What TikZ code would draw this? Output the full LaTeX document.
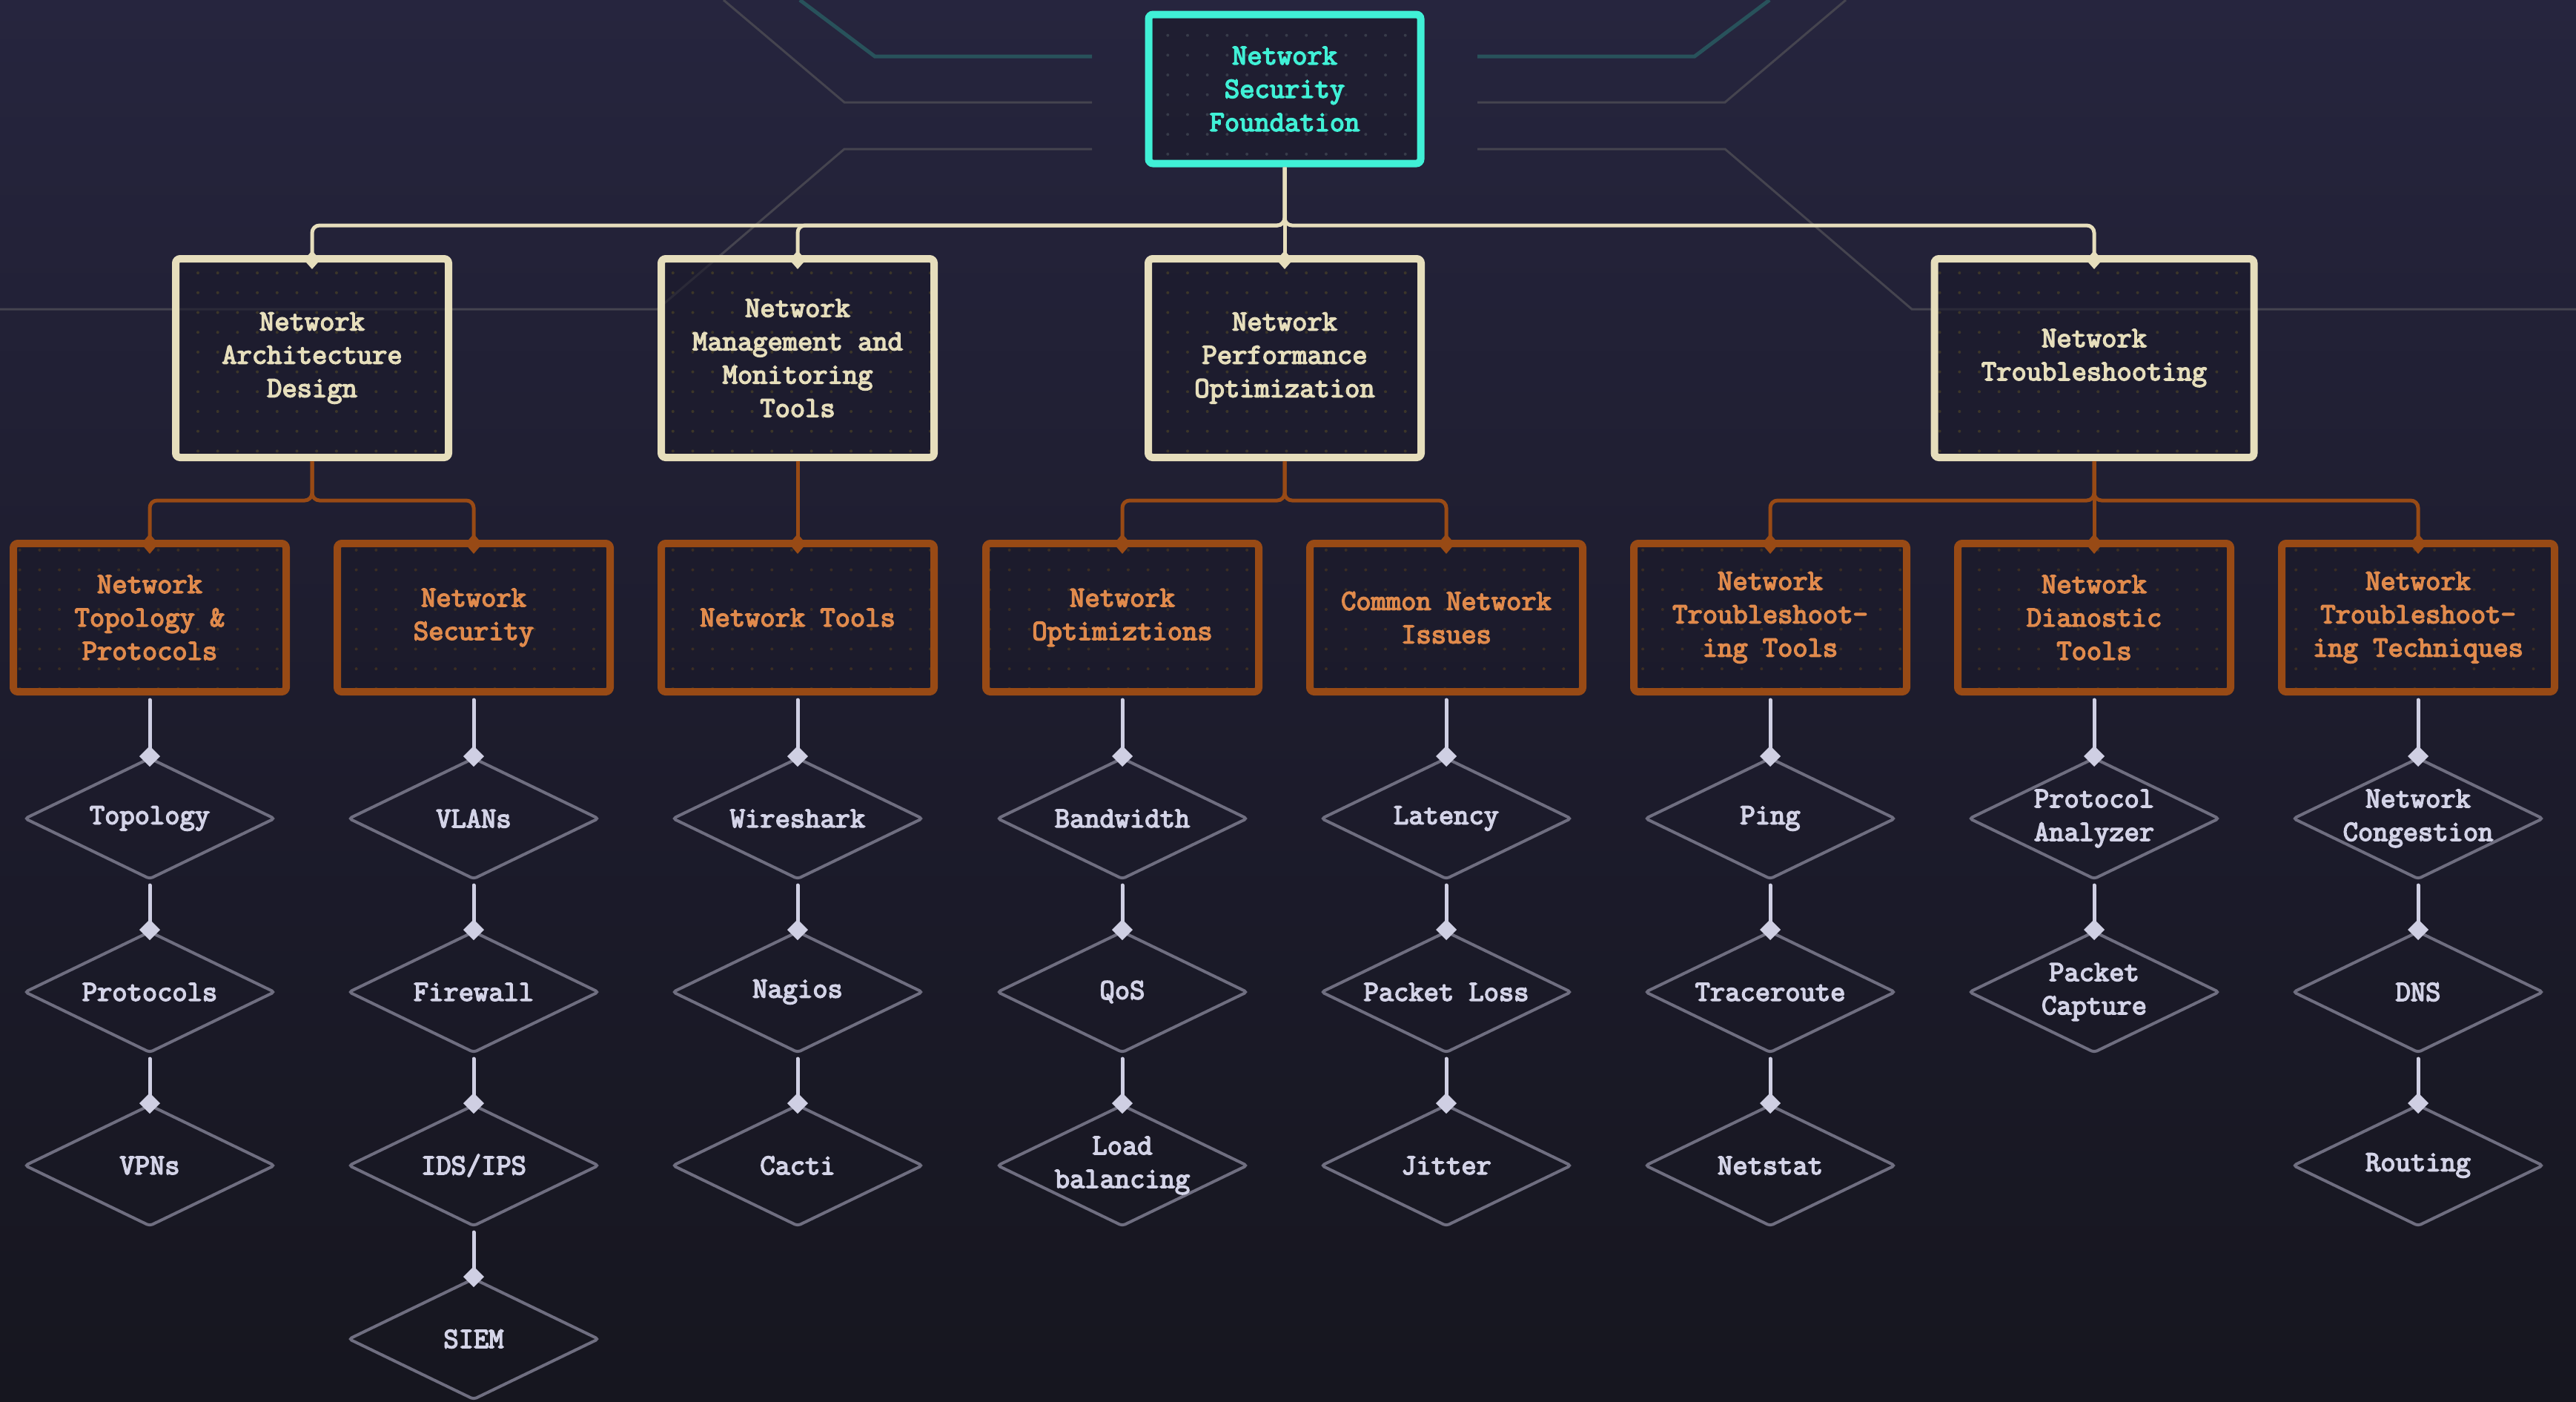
\documentclass[tikz,border=0pt]{standalone}
\usepackage{fontspec}
\setmonofont{Latin Modern Mono}[AutoFakeBold=4]
\usepackage{tikz}
\usetikzlibrary{positioning,arrows.meta,shapes.geometric,patterns.meta}
\definecolor{bgtop}{HTML}{26253E}
\definecolor{bgmid}{HTML}{1D1C2D}
\definecolor{bgbot}{HTML}{16161F}
\definecolor{boxfill}{HTML}{1B1A2A}
\definecolor{rootcolor}{HTML}{40F0D6}
\definecolor{rootdots}{HTML}{383C4A}
\definecolor{topiccolor}{HTML}{E6DEBC}
\definecolor{topicdots}{HTML}{3C3629}
\definecolor{subcolor}{HTML}{984A15}
\definecolor{subtext}{HTML}{E08A4C}
\definecolor{subdots}{HTML}{3B2E23}
\definecolor{leafline}{HTML}{6F6E80}
\definecolor{leaftext}{HTML}{D3D3E7}
\definecolor{leafarrow}{HTML}{CFCFE3}
\definecolor{traceteal}{HTML}{28525B}
\definecolor{tracegray}{HTML}{45444F}
\newcommand{\boxfont}{\ttfamily\bfseries\fontsize{11.2}{12.8}\selectfont}
\tikzset{
    base box/.style={rectangle, rounded corners=0.06cm, line width=0.1cm, align=center, font=\boxfont, inner sep=0pt,
        preaction={fill=boxfill, fill opacity=0.6}, pattern={Dots[radius=0.02cm, distance=0.267cm]}},
    root box/.style={base box, draw=rootcolor, text=rootcolor, pattern color=rootdots, minimum width=3.67cm, minimum height=2.01cm},
    topic box/.style={base box, draw=topiccolor, text=topiccolor, pattern color=topicdots, minimum width=3.68cm, minimum height=2.68cm},
    sub box/.style={base box, draw=subcolor, text=subtext, pattern color=subdots, minimum width=3.68cm, minimum height=2.00cm},
    leaf/.style={diamond, aspect=2, inner xsep=-0.3cm, inner ysep=-0.15cm, minimum width=3.38cm, minimum height=1.64cm,
        draw=leafline, line width=0.04cm, rounded corners=0.04cm, text=leaftext, font=\boxfont, align=center},
    topic link/.style={topiccolor, line width=0.05cm, rounded corners=0.1cm, -{Diamond[length=0.25cm, width=0.22cm]}, shorten >=-0.19cm},
    sub link/.style={subcolor, line width=0.05cm, rounded corners=0.1cm, -{Diamond[length=0.27cm, width=0.23cm]}, shorten >=-0.19cm},
    leaf link/.style={leafarrow, line width=0.05cm, line cap=round, -{Diamond[length=0.28cm, width=0.28cm]}, shorten <=0.06cm, shorten >=-0.14cm},
    trace teal/.style={traceteal, line width=0.05cm},
    trace gray/.style={tracegray, line width=0.03cm}
}

\begin{document}
\begin{tikzpicture}
    % Background
    \fill[top color=bgtop, bottom color=bgbot, middle color=bgmid] (0,0) rectangle (34.75,-18.90);
    \useasboundingbox (0,0) rectangle (34.75,-18.90);

    % Circuit traces
    \draw[trace teal] (10.79,0) -- (11.80,-0.76) -- (14.73,-0.76);
    \draw[trace teal] (19.93,-0.76) -- (22.86,-0.76) -- (23.87,0);
    \draw[trace gray] (9.76,0) -- (11.39,-1.38) -- (14.73,-1.38);
    \draw[trace gray] (19.93,-1.38) -- (23.27,-1.38) -- (24.90,0);
    \draw[trace gray] (14.73,-2.01) -- (11.39,-2.01) -- (8.87,-4.17) -- (0,-4.17);
    \draw[trace gray] (19.93,-2.01) -- (23.27,-2.01) -- (25.79,-4.17) -- (34.75,-4.17);

    % Bus levels
    \coordinate (bus1) at (0,-3.04);
    \coordinate (bus2) at (0,-6.75);

    % Root
    \node[root box] (root) at (17.33,-1.20) {Network\\Security\\Foundation};

    % Main topics
    \node[topic box] (arch) at (4.21,-4.83) {Network\\Architecture\\Design};
    \node[topic box] (manage) at (10.76,-4.83) {Network\\Management and\\Monitoring\\Tools};
    \node[topic box] (perf) at (17.33,-4.83) {Network\\Performance\\Optimization};
    \node[topic box, minimum width=4.31cm] (trouble) at (28.25,-4.83) {Network\\Troubleshooting};

    % Subtopics
    \node[sub box] (topo) at (2.02,-8.33) {Network\\Topology \&\\Protocols};
    \node[sub box] (sec) at (6.39,-8.33) {Network\\Security};
    \node[sub box] (tools) at (10.76,-8.33) {Network Tools};
    \node[sub box] (optim) at (15.14,-8.33) {Network\\Optimiztions};
    \node[sub box] (issues) at (19.51,-8.33) {Common Network\\Issues};
    \node[sub box] (ttools) at (23.88,-8.33) {Network\\Troubleshoot-\\ing Tools};
    \node[sub box] (diag) at (28.25,-8.33) {Network\\Dianostic\\Tools};
    \node[sub box] (ttech) at (32.62,-8.33) {Network\\Troubleshoot-\\ing Techniques};

    % Leaves: topology
    \node[leaf, below=0.82cm of topo] (topology) {Topology};
    \node[leaf, below=0.66cm of topology] (protocols) {Protocols};
    \node[leaf, below=0.66cm of protocols] (vpns) {VPNs};

    % Leaves: security
    \node[leaf, below=0.82cm of sec] (vlans) {VLANs};
    \node[leaf, below=0.66cm of vlans] (firewall) {Firewall};
    \node[leaf, below=0.66cm of firewall] (ids) {IDS/IPS};
    \node[leaf, below=0.66cm of ids] (siem) {SIEM};

    % Leaves: tools
    \node[leaf, below=0.82cm of tools] (wireshark) {Wireshark};
    \node[leaf, below=0.66cm of wireshark] (nagios) {Nagios};
    \node[leaf, below=0.66cm of nagios] (cacti) {Cacti};

    % Leaves: optimizations
    \node[leaf, below=0.82cm of optim] (bandwidth) {Bandwidth};
    \node[leaf, below=0.66cm of bandwidth] (qos) {QoS};
    \node[leaf, below=0.66cm of qos] (loadbal) {Load\\balancing};

    % Leaves: issues
    \node[leaf, below=0.82cm of issues] (latency) {Latency};
    \node[leaf, below=0.66cm of latency] (loss) {Packet Loss};
    \node[leaf, below=0.66cm of loss] (jitter) {Jitter};

    % Leaves: troubleshooting tools
    \node[leaf, below=0.82cm of ttools] (ping) {Ping};
    \node[leaf, below=0.66cm of ping] (tracert) {Traceroute};
    \node[leaf, below=0.66cm of tracert] (netstat) {Netstat};

    % Leaves: diagnostic tools
    \node[leaf, below=0.82cm of diag] (analyzer) {Protocol\\Analyzer};
    \node[leaf, below=0.66cm of analyzer] (capture) {Packet\\Capture};

    % Leaves: techniques
    \node[leaf, below=0.82cm of ttech] (congestion) {Network\\Congestion};
    \node[leaf, below=0.66cm of congestion] (dns) {DNS};
    \node[leaf, below=0.66cm of dns] (routing) {Routing};

    % Root links
    \draw[topic link] (root.south) |- (arch |- bus1) -- (arch.north);
    \draw[topic link] (root.south) |- (manage |- bus1) -- (manage.north);
    \draw[topic link] (root.south) -- (perf.north);
    \draw[topic link] (root.south) |- (trouble |- bus1) -- (trouble.north);

    % Topic links
    \draw[sub link] (arch.south) |- (topo |- bus2) -- (topo.north);
    \draw[sub link] (arch.south) |- (sec |- bus2) -- (sec.north);
    \draw[sub link] (manage.south) -- (tools.north);
    \draw[sub link] (perf.south) |- (optim |- bus2) -- (optim.north);
    \draw[sub link] (perf.south) |- (issues |- bus2) -- (issues.north);
    \draw[sub link] (trouble.south) |- (ttools |- bus2) -- (ttools.north);
    \draw[sub link] (trouble.south) -- (diag.north);
    \draw[sub link] (trouble.south) |- (ttech |- bus2) -- (ttech.north);

    % Leaf links
    \draw[leaf link] (topo) -- (topology);
    \draw[leaf link] (topology) -- (protocols);
    \draw[leaf link] (protocols) -- (vpns);
    \draw[leaf link] (sec) -- (vlans);
    \draw[leaf link] (vlans) -- (firewall);
    \draw[leaf link] (firewall) -- (ids);
    \draw[leaf link] (ids) -- (siem);
    \draw[leaf link] (tools) -- (wireshark);
    \draw[leaf link] (wireshark) -- (nagios);
    \draw[leaf link] (nagios) -- (cacti);
    \draw[leaf link] (optim) -- (bandwidth);
    \draw[leaf link] (bandwidth) -- (qos);
    \draw[leaf link] (qos) -- (loadbal);
    \draw[leaf link] (issues) -- (latency);
    \draw[leaf link] (latency) -- (loss);
    \draw[leaf link] (loss) -- (jitter);
    \draw[leaf link] (ttools) -- (ping);
    \draw[leaf link] (ping) -- (tracert);
    \draw[leaf link] (tracert) -- (netstat);
    \draw[leaf link] (diag) -- (analyzer);
    \draw[leaf link] (analyzer) -- (capture);
    \draw[leaf link] (ttech) -- (congestion);
    \draw[leaf link] (congestion) -- (dns);
    \draw[leaf link] (dns) -- (routing);
\end{tikzpicture}
\end{document}
